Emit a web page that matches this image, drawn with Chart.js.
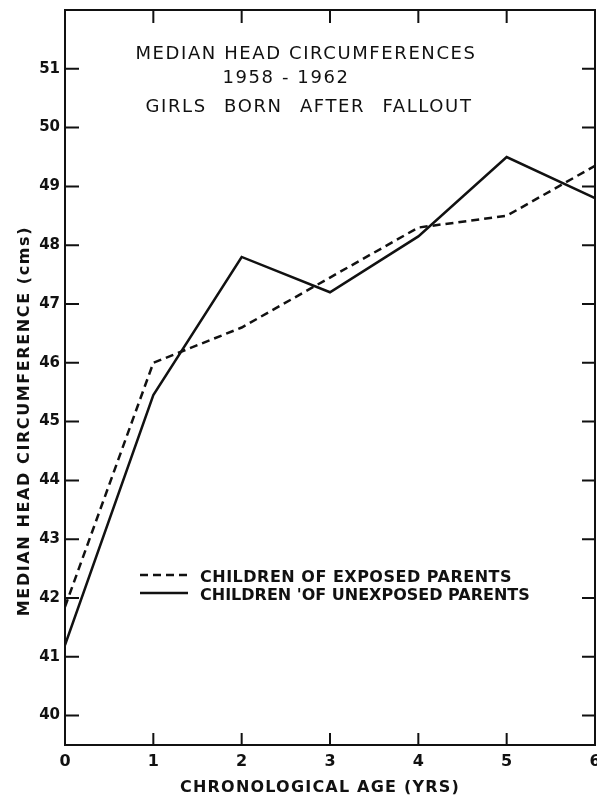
<!DOCTYPE html>
<html>
<head>
<meta charset="utf-8">
<script src="https://cdn.jsdelivr.net/npm/chart.js@4.4.1/dist/chart.umd.min.js"></script>
<style>
  html, body { margin: 0; padding: 0; background: #fff; }
  #wrap { width: 597px; height: 795px; }
</style>
</head>
<body>
<div id="wrap"><canvas id="chart" width="597" height="795"></canvas></div>
<script>
// data
const ages = [0, 1, 2, 3, 4, 5, 6];
const exposedParents = [41.85, 46.0, 46.6, 47.45, 48.3, 48.5, 49.35];
const unexposedParents = [41.2, 45.45, 47.8, 47.2, 48.15, 49.5, 48.8];
const xTicks = [0, 1, 2, 3, 4, 5, 6];
const yTicks = [40, 41, 42, 43, 44, 45, 46, 47, 48, 49, 50, 51];
const seriesLabels = ['CHILDREN OF EXPOSED PARENTS', "CHILDREN 'OF UNEXPOSED PARENTS"];
const titleLines = ['MEDIAN HEAD CIRCUMFERENCES', '1958 - 1962', 'GIRLS BORN AFTER FALLOUT'];
const xTitle = 'CHRONOLOGICAL AGE (YRS)';
const yTitle = 'MEDIAN HEAD CIRCUMFERENCE (cms)';

const FONT = '"DejaVu Sans", sans-serif';
const INK = '#111';

// frame with inward ticks on all four sides
const framePlugin = {
    id: 'frame',
    afterDraw(chart) {
        const { ctx, chartArea: a, scales } = chart;
        ctx.save();
        ctx.strokeStyle = INK;
        ctx.lineWidth = 2;
        ctx.strokeRect(a.left, a.top, a.right - a.left, a.bottom - a.top);
        ctx.beginPath();
        xTicks.forEach((v) => {
            if (v === 0 || v === 6) return;
            const x = scales.x.getPixelForValue(v);
            ctx.moveTo(x, a.bottom); ctx.lineTo(x, a.bottom - 12);
            ctx.moveTo(x, a.top); ctx.lineTo(x, a.top + 13);
        });
        yTicks.forEach((v) => {
            const y = scales.y.getPixelForValue(v);
            ctx.moveTo(a.left, y); ctx.lineTo(a.left + 14, y);
            ctx.moveTo(a.right, y); ctx.lineTo(a.right - 13, y);
        });
        ctx.stroke();
        ctx.restore();
    },
};

// title block, legend and axis titles
const textPlugin = {
    id: 'texts',
    afterDraw(chart) {
        const { ctx } = chart;
        ctx.save();
        ctx.fillStyle = INK;
        ctx.textAlign = 'center';
        ctx.textBaseline = 'alphabetic';

        ctx.font = `18px ${FONT}`;
        ctx.letterSpacing = '1.6px';
        ctx.fillText(titleLines[0], 306, 59);
        ctx.fillText(titleLines[1], 286, 83);
        ctx.wordSpacing = '10px';
        ctx.fillText(titleLines[2], 309, 112);
        ctx.wordSpacing = '0px';

        // legend
        ctx.textAlign = 'left';
        ctx.font = `bold 16px ${FONT}`;
        const rows = [575, 593];
        const spacing = ['0.5px', '0px'];
        chart.data.datasets.forEach((ds, i) => {
            const y = rows[i];
            ctx.beginPath();
            ctx.setLineDash(ds.borderDash || []);
            ctx.lineWidth = ds.borderWidth;
            ctx.strokeStyle = ds.borderColor;
            ctx.moveTo(140, y);
            ctx.lineTo(188, y);
            ctx.stroke();
            ctx.setLineDash([]);
            ctx.letterSpacing = spacing[i];
            ctx.fillText(ds.label, 200, y + 7);
        });

        // axis titles
        ctx.textAlign = 'center';
        ctx.font = `bold 16px ${FONT}`;
        ctx.letterSpacing = '1.2px';
        ctx.fillText(xTitle, 320, 792);

        ctx.letterSpacing = '1.6px';
        ctx.translate(25, 421);
        ctx.rotate(-Math.PI / 2);
        ctx.textBaseline = 'middle';
        ctx.fillText(yTitle, 0, 0);
        ctx.restore();
    },
};

const ctx = document.getElementById('chart').getContext('2d');

new Chart(ctx, {
    type: 'line',
    data: {
        datasets: [
            {
                label: seriesLabels[0],
                data: ages.map((a, i) => ({ x: a, y: exposedParents[i] })),
                borderColor: INK,
                borderWidth: 2.5,
                borderDash: [8, 5],
                pointRadius: 0,
                tension: 0,
                fill: false,
            },
            {
                label: seriesLabels[1],
                data: ages.map((a, i) => ({ x: a, y: unexposedParents[i] })),
                borderColor: INK,
                borderWidth: 2.5,
                pointRadius: 0,
                tension: 0,
                fill: false,
            },
        ],
    },
    options: {
        responsive: false,
        animation: false,
        layout: { padding: { top: 10, right: 2, left: 0, bottom: 0 } },
        plugins: {
            legend: { display: false },
            tooltip: { enabled: false },
        },
        scales: {
            x: {
                type: 'linear',
                min: 0,
                max: 6,
                afterBuildTicks: (s) => { s.ticks = xTicks.map((v) => ({ value: v })); },
                afterFit: (s) => { s.height = 50; s.paddingLeft = 0; s.paddingRight = 0; },
                grid: { display: false, drawTicks: false },
                border: { display: false },
                ticks: {
                    color: INK,
                    padding: 7,
                    maxRotation: 0,
                    font: { family: FONT, size: 16, weight: 'bold' },
                },
            },
            y: {
                min: 39.5,
                max: 52,
                afterBuildTicks: (s) => { s.ticks = yTicks.map((v) => ({ value: v })); },
                afterFit: (s) => { s.width = 65; s.paddingTop = 0; s.paddingBottom = 0; },
                grid: { display: false, drawTicks: false },
                border: { display: false },
                ticks: {
                    color: INK,
                    padding: 5,
                    font: { family: FONT, size: 15, weight: 'bold' },
                },
            },
        },
    },
    plugins: [framePlugin, textPlugin],
});
</script>
</body>
</html>
